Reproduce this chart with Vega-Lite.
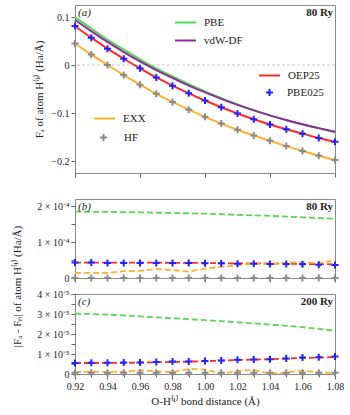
{
  "$schema": "https://vega.github.io/schema/vega-lite/v6.json",
  "padding": {"left": 11, "top": 4, "right": 5, "bottom": 3},
  "spacing": 26,
  "bounds": "flush",
  "config": {
    "font": "Liberation Serif",
    "view": {"stroke": "#888888", "strokeWidth": 1},
    "axis": {
      "labelFont": "Liberation Serif", "titleFont": "Liberation Serif",
      "labelFontSize": 10, "titleFontSize": 11, "titleFontWeight": "normal",
      "labelColor": "#222222", "titleColor": "#222222",
      "tickColor": "#666666", "tickSize": 4, "domain": false, "grid": false,
      "labelPadding": 2, "labelOverlap": false, "labelBound": false, "labelFlush": false
    },
    "legend": {
      "orient": "none", "title": null, "labelFont": "Liberation Serif",
      "labelFontSize": 11, "labelColor": "#222222", "symbolStrokeWidth": 2,
      "padding": 0, "rowPadding": 1, "labelOffset": 7
    }
  },
  "datasets": {
    "a": [
      {"d": 0.92, "m": "PBE", "v": 0.100}, {"d": 0.93, "m": "PBE", "v": 0.076}, {"d": 0.94, "m": "PBE", "v": 0.053}, {"d": 0.95, "m": "PBE", "v": 0.032}, {"d": 0.96, "m": "PBE", "v": 0.012}, {"d": 0.97, "m": "PBE", "v": -0.007}, {"d": 0.98, "m": "PBE", "v": -0.024}, {"d": 0.99, "m": "PBE", "v": -0.040}, {"d": 1.00, "m": "PBE", "v": -0.055}, {"d": 1.01, "m": "PBE", "v": -0.069}, {"d": 1.02, "m": "PBE", "v": -0.082}, {"d": 1.03, "m": "PBE", "v": -0.094}, {"d": 1.04, "m": "PBE", "v": -0.105}, {"d": 1.05, "m": "PBE", "v": -0.115}, {"d": 1.06, "m": "PBE", "v": -0.124}, {"d": 1.07, "m": "PBE", "v": -0.132}, {"d": 1.08, "m": "PBE", "v": -0.140},
      {"d": 0.92, "m": "vdW-DF", "v": 0.094}, {"d": 0.93, "m": "vdW-DF", "v": 0.0705}, {"d": 0.94, "m": "vdW-DF", "v": 0.048}, {"d": 0.95, "m": "vdW-DF", "v": 0.027}, {"d": 0.96, "m": "vdW-DF", "v": 0.0075}, {"d": 0.97, "m": "vdW-DF", "v": -0.0105}, {"d": 0.98, "m": "vdW-DF", "v": -0.027}, {"d": 0.99, "m": "vdW-DF", "v": -0.043}, {"d": 1.00, "m": "vdW-DF", "v": -0.057}, {"d": 1.01, "m": "vdW-DF", "v": -0.0705}, {"d": 1.02, "m": "vdW-DF", "v": -0.083}, {"d": 1.03, "m": "vdW-DF", "v": -0.0945}, {"d": 1.04, "m": "vdW-DF", "v": -0.105}, {"d": 1.05, "m": "vdW-DF", "v": -0.1145}, {"d": 1.06, "m": "vdW-DF", "v": -0.1235}, {"d": 1.07, "m": "vdW-DF", "v": -0.1315}, {"d": 1.08, "m": "vdW-DF", "v": -0.139},
      {"d": 0.92, "m": "OEP25", "v": 0.081}, {"d": 0.93, "m": "OEP25", "v": 0.057}, {"d": 0.94, "m": "OEP25", "v": 0.034}, {"d": 0.95, "m": "OEP25", "v": 0.013}, {"d": 0.96, "m": "OEP25", "v": -0.007}, {"d": 0.97, "m": "OEP25", "v": -0.026}, {"d": 0.98, "m": "OEP25", "v": -0.043}, {"d": 0.99, "m": "OEP25", "v": -0.059}, {"d": 1.00, "m": "OEP25", "v": -0.074}, {"d": 1.01, "m": "OEP25", "v": -0.088}, {"d": 1.02, "m": "OEP25", "v": -0.101}, {"d": 1.03, "m": "OEP25", "v": -0.113}, {"d": 1.04, "m": "OEP25", "v": -0.124}, {"d": 1.05, "m": "OEP25", "v": -0.134}, {"d": 1.06, "m": "OEP25", "v": -0.143}, {"d": 1.07, "m": "OEP25", "v": -0.152}, {"d": 1.08, "m": "OEP25", "v": -0.160},
      {"d": 0.92, "m": "PBE025", "v": 0.081}, {"d": 0.93, "m": "PBE025", "v": 0.057}, {"d": 0.94, "m": "PBE025", "v": 0.034}, {"d": 0.95, "m": "PBE025", "v": 0.013}, {"d": 0.96, "m": "PBE025", "v": -0.007}, {"d": 0.97, "m": "PBE025", "v": -0.026}, {"d": 0.98, "m": "PBE025", "v": -0.043}, {"d": 0.99, "m": "PBE025", "v": -0.059}, {"d": 1.00, "m": "PBE025", "v": -0.074}, {"d": 1.01, "m": "PBE025", "v": -0.088}, {"d": 1.02, "m": "PBE025", "v": -0.101}, {"d": 1.03, "m": "PBE025", "v": -0.113}, {"d": 1.04, "m": "PBE025", "v": -0.124}, {"d": 1.05, "m": "PBE025", "v": -0.134}, {"d": 1.06, "m": "PBE025", "v": -0.143}, {"d": 1.07, "m": "PBE025", "v": -0.152}, {"d": 1.08, "m": "PBE025", "v": -0.160},
      {"d": 0.92, "m": "EXX", "v": 0.045}, {"d": 0.93, "m": "EXX", "v": 0.022}, {"d": 0.94, "m": "EXX", "v": 0.000}, {"d": 0.95, "m": "EXX", "v": -0.021}, {"d": 0.96, "m": "EXX", "v": -0.041}, {"d": 0.97, "m": "EXX", "v": -0.060}, {"d": 0.98, "m": "EXX", "v": -0.077}, {"d": 0.99, "m": "EXX", "v": -0.093}, {"d": 1.00, "m": "EXX", "v": -0.108}, {"d": 1.01, "m": "EXX", "v": -0.122}, {"d": 1.02, "m": "EXX", "v": -0.135}, {"d": 1.03, "m": "EXX", "v": -0.147}, {"d": 1.04, "m": "EXX", "v": -0.158}, {"d": 1.05, "m": "EXX", "v": -0.169}, {"d": 1.06, "m": "EXX", "v": -0.179}, {"d": 1.07, "m": "EXX", "v": -0.189}, {"d": 1.08, "m": "EXX", "v": -0.198},
      {"d": 0.92, "m": "HF", "v": 0.045}, {"d": 0.93, "m": "HF", "v": 0.022}, {"d": 0.94, "m": "HF", "v": 0.000}, {"d": 0.95, "m": "HF", "v": -0.021}, {"d": 0.96, "m": "HF", "v": -0.041}, {"d": 0.97, "m": "HF", "v": -0.060}, {"d": 0.98, "m": "HF", "v": -0.077}, {"d": 0.99, "m": "HF", "v": -0.093}, {"d": 1.00, "m": "HF", "v": -0.108}, {"d": 1.01, "m": "HF", "v": -0.122}, {"d": 1.02, "m": "HF", "v": -0.135}, {"d": 1.03, "m": "HF", "v": -0.147}, {"d": 1.04, "m": "HF", "v": -0.158}, {"d": 1.05, "m": "HF", "v": -0.169}, {"d": 1.06, "m": "HF", "v": -0.179}, {"d": 1.07, "m": "HF", "v": -0.189}, {"d": 1.08, "m": "HF", "v": -0.198}
    ],
    "b": [
      {"d": 0.92, "m": "PBE", "v": 1.85e-4}, {"d": 0.93, "m": "PBE", "v": 1.845e-4}, {"d": 0.94, "m": "PBE", "v": 1.84e-4}, {"d": 0.95, "m": "PBE", "v": 1.835e-4}, {"d": 0.96, "m": "PBE", "v": 1.83e-4}, {"d": 0.97, "m": "PBE", "v": 1.82e-4}, {"d": 0.98, "m": "PBE", "v": 1.81e-4}, {"d": 0.99, "m": "PBE", "v": 1.80e-4}, {"d": 1.00, "m": "PBE", "v": 1.79e-4}, {"d": 1.01, "m": "PBE", "v": 1.775e-4}, {"d": 1.02, "m": "PBE", "v": 1.76e-4}, {"d": 1.03, "m": "PBE", "v": 1.745e-4}, {"d": 1.04, "m": "PBE", "v": 1.73e-4}, {"d": 1.05, "m": "PBE", "v": 1.71e-4}, {"d": 1.06, "m": "PBE", "v": 1.69e-4}, {"d": 1.07, "m": "PBE", "v": 1.67e-4}, {"d": 1.08, "m": "PBE", "v": 1.65e-4},
      {"d": 0.92, "m": "OEP25", "v": 0.43e-4}, {"d": 0.93, "m": "OEP25", "v": 0.43e-4}, {"d": 0.94, "m": "OEP25", "v": 0.43e-4}, {"d": 0.95, "m": "OEP25", "v": 0.43e-4}, {"d": 0.96, "m": "OEP25", "v": 0.43e-4}, {"d": 0.97, "m": "OEP25", "v": 0.43e-4}, {"d": 0.98, "m": "OEP25", "v": 0.42e-4}, {"d": 0.99, "m": "OEP25", "v": 0.42e-4}, {"d": 1.00, "m": "OEP25", "v": 0.42e-4}, {"d": 1.01, "m": "OEP25", "v": 0.41e-4}, {"d": 1.02, "m": "OEP25", "v": 0.41e-4}, {"d": 1.03, "m": "OEP25", "v": 0.41e-4}, {"d": 1.04, "m": "OEP25", "v": 0.40e-4}, {"d": 1.05, "m": "OEP25", "v": 0.40e-4}, {"d": 1.06, "m": "OEP25", "v": 0.39e-4}, {"d": 1.07, "m": "OEP25", "v": 0.39e-4}, {"d": 1.08, "m": "OEP25", "v": 0.38e-4},
      {"d": 0.92, "m": "PBE025", "v": 0.43e-4}, {"d": 0.93, "m": "PBE025", "v": 0.43e-4}, {"d": 0.94, "m": "PBE025", "v": 0.42e-4}, {"d": 0.95, "m": "PBE025", "v": 0.42e-4}, {"d": 0.96, "m": "PBE025", "v": 0.42e-4}, {"d": 0.97, "m": "PBE025", "v": 0.42e-4}, {"d": 0.98, "m": "PBE025", "v": 0.42e-4}, {"d": 0.99, "m": "PBE025", "v": 0.42e-4}, {"d": 1.00, "m": "PBE025", "v": 0.41e-4}, {"d": 1.01, "m": "PBE025", "v": 0.41e-4}, {"d": 1.02, "m": "PBE025", "v": 0.40e-4}, {"d": 1.03, "m": "PBE025", "v": 0.40e-4}, {"d": 1.04, "m": "PBE025", "v": 0.39e-4}, {"d": 1.05, "m": "PBE025", "v": 0.39e-4}, {"d": 1.06, "m": "PBE025", "v": 0.38e-4}, {"d": 1.07, "m": "PBE025", "v": 0.37e-4}, {"d": 1.08, "m": "PBE025", "v": 0.36e-4},
      {"d": 0.92, "m": "EXX", "v": 0.14e-4}, {"d": 0.93, "m": "EXX", "v": 0.14e-4}, {"d": 0.94, "m": "EXX", "v": 0.14e-4}, {"d": 0.95, "m": "EXX", "v": 0.19e-4}, {"d": 0.96, "m": "EXX", "v": 0.20e-4}, {"d": 0.97, "m": "EXX", "v": 0.25e-4}, {"d": 0.98, "m": "EXX", "v": 0.22e-4}, {"d": 0.99, "m": "EXX", "v": 0.18e-4}, {"d": 1.00, "m": "EXX", "v": 0.26e-4}, {"d": 1.01, "m": "EXX", "v": 0.31e-4}, {"d": 1.02, "m": "EXX", "v": 0.35e-4}, {"d": 1.03, "m": "EXX", "v": 0.41e-4}, {"d": 1.04, "m": "EXX", "v": 0.38e-4}, {"d": 1.05, "m": "EXX", "v": 0.43e-4}, {"d": 1.06, "m": "EXX", "v": 0.44e-4}, {"d": 1.07, "m": "EXX", "v": 0.41e-4}, {"d": 1.08, "m": "EXX", "v": 0.50e-4},
      {"d": 0.92, "m": "HF", "v": 0}, {"d": 0.93, "m": "HF", "v": 0}, {"d": 0.94, "m": "HF", "v": 0}, {"d": 0.95, "m": "HF", "v": 0}, {"d": 0.96, "m": "HF", "v": 0}, {"d": 0.97, "m": "HF", "v": 0}, {"d": 0.98, "m": "HF", "v": 0}, {"d": 0.99, "m": "HF", "v": 0}, {"d": 1.00, "m": "HF", "v": 0}, {"d": 1.01, "m": "HF", "v": 0}, {"d": 1.02, "m": "HF", "v": 0}, {"d": 1.03, "m": "HF", "v": 0}, {"d": 1.04, "m": "HF", "v": 0}, {"d": 1.05, "m": "HF", "v": 0}, {"d": 1.06, "m": "HF", "v": 0}, {"d": 1.07, "m": "HF", "v": 0}, {"d": 1.08, "m": "HF", "v": 0}
    ],
    "c": [
      {"d": 0.92, "m": "PBE", "v": 3.02e-5}, {"d": 0.93, "m": "PBE", "v": 3.00e-5}, {"d": 0.94, "m": "PBE", "v": 2.97e-5}, {"d": 0.95, "m": "PBE", "v": 2.93e-5}, {"d": 0.96, "m": "PBE", "v": 2.88e-5}, {"d": 0.97, "m": "PBE", "v": 2.83e-5}, {"d": 0.98, "m": "PBE", "v": 2.79e-5}, {"d": 0.99, "m": "PBE", "v": 2.74e-5}, {"d": 1.00, "m": "PBE", "v": 2.69e-5}, {"d": 1.01, "m": "PBE", "v": 2.64e-5}, {"d": 1.02, "m": "PBE", "v": 2.58e-5}, {"d": 1.03, "m": "PBE", "v": 2.53e-5}, {"d": 1.04, "m": "PBE", "v": 2.47e-5}, {"d": 1.05, "m": "PBE", "v": 2.41e-5}, {"d": 1.06, "m": "PBE", "v": 2.34e-5}, {"d": 1.07, "m": "PBE", "v": 2.26e-5}, {"d": 1.08, "m": "PBE", "v": 2.16e-5},
      {"d": 0.92, "m": "OEP25", "v": 0.55e-5}, {"d": 0.93, "m": "OEP25", "v": 0.55e-5}, {"d": 0.94, "m": "OEP25", "v": 0.56e-5}, {"d": 0.95, "m": "OEP25", "v": 0.56e-5}, {"d": 0.96, "m": "OEP25", "v": 0.57e-5}, {"d": 0.97, "m": "OEP25", "v": 0.59e-5}, {"d": 0.98, "m": "OEP25", "v": 0.60e-5}, {"d": 0.99, "m": "OEP25", "v": 0.62e-5}, {"d": 1.00, "m": "OEP25", "v": 0.64e-5}, {"d": 1.01, "m": "OEP25", "v": 0.67e-5}, {"d": 1.02, "m": "OEP25", "v": 0.70e-5}, {"d": 1.03, "m": "OEP25", "v": 0.72e-5}, {"d": 1.04, "m": "OEP25", "v": 0.74e-5}, {"d": 1.05, "m": "OEP25", "v": 0.77e-5}, {"d": 1.06, "m": "OEP25", "v": 0.80e-5}, {"d": 1.07, "m": "OEP25", "v": 0.82e-5}, {"d": 1.08, "m": "OEP25", "v": 0.85e-5},
      {"d": 0.92, "m": "PBE025", "v": 0.55e-5}, {"d": 0.93, "m": "PBE025", "v": 0.56e-5}, {"d": 0.94, "m": "PBE025", "v": 0.56e-5}, {"d": 0.95, "m": "PBE025", "v": 0.57e-5}, {"d": 0.96, "m": "PBE025", "v": 0.58e-5}, {"d": 0.97, "m": "PBE025", "v": 0.60e-5}, {"d": 0.98, "m": "PBE025", "v": 0.62e-5}, {"d": 0.99, "m": "PBE025", "v": 0.63e-5}, {"d": 1.00, "m": "PBE025", "v": 0.65e-5}, {"d": 1.01, "m": "PBE025", "v": 0.68e-5}, {"d": 1.02, "m": "PBE025", "v": 0.71e-5}, {"d": 1.03, "m": "PBE025", "v": 0.73e-5}, {"d": 1.04, "m": "PBE025", "v": 0.74e-5}, {"d": 1.05, "m": "PBE025", "v": 0.78e-5}, {"d": 1.06, "m": "PBE025", "v": 0.83e-5}, {"d": 1.07, "m": "PBE025", "v": 0.84e-5}, {"d": 1.08, "m": "PBE025", "v": 0.87e-5},
      {"d": 0.92, "m": "EXX", "v": 0.09e-5}, {"d": 0.93, "m": "EXX", "v": 0.12e-5}, {"d": 0.94, "m": "EXX", "v": 0.10e-5}, {"d": 0.95, "m": "EXX", "v": 0.11e-5}, {"d": 0.96, "m": "EXX", "v": 0.19e-5}, {"d": 0.97, "m": "EXX", "v": 0.14e-5}, {"d": 0.98, "m": "EXX", "v": 0.09e-5}, {"d": 0.99, "m": "EXX", "v": 0.25e-5}, {"d": 1.00, "m": "EXX", "v": 0.23e-5}, {"d": 1.01, "m": "EXX", "v": 0.01e-5}, {"d": 1.02, "m": "EXX", "v": 0.15e-5}, {"d": 1.03, "m": "EXX", "v": 0.21e-5}, {"d": 1.04, "m": "EXX", "v": 0.02e-5}, {"d": 1.05, "m": "EXX", "v": 0.08e-5}, {"d": 1.06, "m": "EXX", "v": 0.17e-5}, {"d": 1.07, "m": "EXX", "v": 0.08e-5}, {"d": 1.08, "m": "EXX", "v": 0.05e-5},
      {"d": 0.92, "m": "HF", "v": 0.06e-5}, {"d": 0.93, "m": "HF", "v": 0.06e-5}, {"d": 0.94, "m": "HF", "v": 0.06e-5}, {"d": 0.95, "m": "HF", "v": 0.06e-5}, {"d": 0.96, "m": "HF", "v": 0.06e-5}, {"d": 0.97, "m": "HF", "v": 0.06e-5}, {"d": 0.98, "m": "HF", "v": 0.06e-5}, {"d": 0.99, "m": "HF", "v": 0.06e-5}, {"d": 1.00, "m": "HF", "v": 0.06e-5}, {"d": 1.01, "m": "HF", "v": 0.06e-5}, {"d": 1.02, "m": "HF", "v": 0.06e-5}, {"d": 1.03, "m": "HF", "v": 0.06e-5}, {"d": 1.04, "m": "HF", "v": 0.06e-5}, {"d": 1.05, "m": "HF", "v": 0.06e-5}, {"d": 1.06, "m": "HF", "v": 0.06e-5}, {"d": 1.07, "m": "HF", "v": 0.06e-5}, {"d": 1.08, "m": "HF", "v": 0.06e-5}
    ],
    "lab_a": [{"t": "(a)"}], "ry_a": [{"t": "80 Ry"}],
    "lab_b": [{"t": "(b)"}], "ry_b": [{"t": "80 Ry"}],
    "lab_c": [{"t": "(c)"}], "ry_c": [{"t": "200 Ry"}],
    "one": [{}]
  },
  "vconcat": [
    {
      "width": 260, "height": 168,
      "layer": [
        {
          "data": {"name": "one"},
          "mark": {"type": "rule", "color": "#c8c8c8", "strokeDash": [3, 2], "strokeWidth": 1},
          "encoding": {"y": {"datum": 0, "type": "quantitative"}}
        },
        {
          "data": {"name": "a"},
          "transform": [{"filter": {"field": "m", "oneOf": ["PBE", "vdW-DF"]}}],
          "mark": {"type": "line", "strokeWidth": 2, "interpolate": "monotone"},
          "encoding": {
            "x": {"field": "d", "type": "quantitative", "scale": {"domain": [0.92, 1.08], "nice": false, "zero": false},
              "axis": {"title": null, "labels": false, "values": [0.92,0.93,0.94,0.95,0.96,0.97,0.98,0.99,1.0,1.01,1.02,1.03,1.04,1.05,1.06,1.07,1.08]}},
            "y": {"field": "v", "type": "quantitative", "scale": {"domain": [-0.225, 0.125], "nice": false, "zero": false},
              "axis": {"title": "Fₐ of atom H⁽¹⁾ (Ha/Å)", "titlePadding": 6, "labelOverlap": false, "values": [-0.2, -0.15, -0.1, -0.05, 0, 0.05, 0.1],
                "labelExpr": "abs(round(datum.value*20)) % 2 == 0 ? format(datum.value, '.1~f') : ''"}},
            "color": {"field": "m", "type": "nominal", "scale": {"domain": ["PBE", "vdW-DF"], "range": ["#55d855", "#8e2c9a"]},
              "legend": {"legendX": 99, "legendY": 6, "symbolType": "stroke", "symbolSize": 441}}
          }
        },
        {
          "data": {"name": "a"},
          "transform": [{"filter": {"field": "m", "equal": "EXX"}}],
          "mark": {"type": "line", "strokeWidth": 2, "interpolate": "monotone"},
          "encoding": {
            "x": {"field": "d", "type": "quantitative"},
            "y": {"field": "v", "type": "quantitative"},
            "color": {"field": "m", "type": "nominal", "scale": {"domain": ["EXX"], "range": ["#ffb02e"]},
              "legend": {"legendX": 18, "legendY": 102, "symbolType": "stroke", "symbolSize": 441}}
          }
        },
        {
          "data": {"name": "a"},
          "transform": [{"filter": {"field": "m", "equal": "OEP25"}}],
          "mark": {"type": "line", "strokeWidth": 2, "interpolate": "monotone"},
          "encoding": {
            "x": {"field": "d", "type": "quantitative"},
            "y": {"field": "v", "type": "quantitative"},
            "color": {"field": "m", "type": "nominal", "scale": {"domain": ["OEP25"], "range": ["#ff2a2a"]},
              "legend": {"legendX": 183, "legendY": 59, "symbolType": "stroke", "symbolSize": 441}}
          }
        },
        {
          "data": {"name": "a"},
          "transform": [{"filter": {"field": "m", "equal": "PBE025"}}],
          "mark": {"type": "point", "shape": "M-1,0H1M0,-1V1", "size": 49, "filled": false, "strokeWidth": 2, "opacity": 1},
          "encoding": {
            "x": {"field": "d", "type": "quantitative"},
            "y": {"field": "v", "type": "quantitative"},
            "color": {"field": "m", "type": "nominal", "scale": {"domain": ["PBE025"], "range": ["#2222ff"]},
              "legend": {"legendX": 189, "legendY": 82, "symbolType": "M-1,0H1M0,-1V1", "symbolSize": 49, "labelOffset": 12}}
          }
        },
        {
          "data": {"name": "a"},
          "transform": [{"filter": {"field": "m", "equal": "HF"}}],
          "mark": {"type": "point", "shape": "M-1,0H1M0,-1V1", "size": 49, "filled": false, "strokeWidth": 2, "opacity": 1},
          "encoding": {
            "x": {"field": "d", "type": "quantitative"},
            "y": {"field": "v", "type": "quantitative"},
            "color": {"field": "m", "type": "nominal", "scale": {"domain": ["HF"], "range": ["#8a8a8a"]},
              "legend": {"legendX": 23, "legendY": 127, "symbolType": "M-1,0H1M0,-1V1", "symbolSize": 49, "labelOffset": 15}}
          }
        },
        {
          "data": {"name": "lab_a"},
          "mark": {"type": "text", "align": "left", "baseline": "top", "dx": 3, "dy": 2, "fontSize": 11, "fontStyle": "italic", "font": "Liberation Serif", "color": "#222222"},
          "encoding": {"x": {"datum": 0.92, "type": "quantitative"}, "y": {"datum": 0.125, "type": "quantitative"}, "text": {"field": "t"}}
        },
        {
          "data": {"name": "ry_a"},
          "mark": {"type": "text", "align": "right", "baseline": "top", "dx": -2, "dy": 2, "fontSize": 11, "fontWeight": "bold", "font": "Liberation Serif", "color": "#222222"},
          "encoding": {"x": {"datum": 1.08, "type": "quantitative"}, "y": {"datum": 0.125, "type": "quantitative"}, "text": {"field": "t"}}
        }
      ],
      "resolve": {"scale": {"color": "independent"}}
    },
    {
      "spacing": 16,
      "bounds": "flush",
      "vconcat": [
        {
          "width": 260, "height": 79,
          "layer": [
            {"data": {"name": "b"}, "transform": [{"filter": {"field": "m", "equal": "PBE"}}], "mark": {"type": "line", "color": "#55d855", "strokeWidth": 1.8, "strokeDash": [6, 3]},
             "encoding": {
              "x": {"field": "d", "type": "quantitative", "scale": {"domain": [0.92, 1.08], "nice": false, "zero": false},
                "axis": {"title": null, "labels": false, "values": [0.92,0.93,0.94,0.95,0.96,0.97,0.98,0.99,1.0,1.01,1.02,1.03,1.04,1.05,1.06,1.07,1.08]}},
              "y": {"field": "v", "type": "quantitative", "scale": {"domain": [0, 2.2e-4], "nice": false, "zero": false},
                "axis": {"orient": "left", "title": "|Fₐ - Fₙ| of atom H⁽¹⁾ (Ha/Å)", "titlePadding": 14, "titleY": 87, "labelOverlap": false,
                  "values": [0, 1e-4, 2e-4],
                  "labelExpr": "datum.value == 0 ? '0' : round(datum.value*1e4) + ' × 10⁻⁴'"}}
             }},
            {"data": {"name": "b"}, "transform": [{"filter": {"field": "m", "equal": "OEP25"}}], "mark": {"type": "line", "color": "#ff2a2a", "strokeWidth": 1.8, "strokeDash": [6, 3]},
             "encoding": {"x": {"field": "d", "type": "quantitative"},
               "y": {"field": "v", "type": "quantitative", "axis": {"orient": "left", "title": null, "labels": false, "values": [0, 0.5e-4, 1e-4, 1.5e-4, 2e-4]}}}},
            {"data": {"name": "b"}, "transform": [{"filter": {"field": "m", "equal": "EXX"}}], "mark": {"type": "line", "color": "#ffb02e", "strokeWidth": 1.8, "strokeDash": [6, 3]},
             "encoding": {"x": {"field": "d", "type": "quantitative"}, "y": {"field": "v", "type": "quantitative", "axis": null}}},
            {"data": {"name": "b"}, "transform": [{"filter": {"field": "m", "equal": "PBE025"}}], "mark": {"type": "point", "shape": "M-1,0H1M0,-1V1", "size": 49, "filled": false, "strokeWidth": 2, "color": "#2222ff", "opacity": 1},
             "encoding": {"x": {"field": "d", "type": "quantitative"}, "y": {"field": "v", "type": "quantitative", "axis": null}}},
            {"data": {"name": "b"}, "transform": [{"filter": {"field": "m", "equal": "HF"}}], "mark": {"type": "point", "shape": "M-1,0H1M0,-1V1", "size": 49, "filled": false, "strokeWidth": 2, "color": "#8a8a8a", "opacity": 1},
             "encoding": {"x": {"field": "d", "type": "quantitative"}, "y": {"field": "v", "type": "quantitative", "axis": null}}},
            {
              "data": {"name": "lab_b"},
              "mark": {"type": "text", "align": "left", "baseline": "top", "dx": 3, "dy": 2, "fontSize": 11, "fontStyle": "italic", "font": "Liberation Serif", "color": "#222222"},
              "encoding": {"x": {"datum": 0.92, "type": "quantitative"}, "y": {"datum": 2.2e-4, "type": "quantitative", "axis": null}, "text": {"field": "t"}}
            },
            {
              "data": {"name": "ry_b"},
              "mark": {"type": "text", "align": "right", "baseline": "top", "dx": -2, "dy": 2, "fontSize": 11, "fontWeight": "bold", "font": "Liberation Serif", "color": "#222222"},
              "encoding": {"x": {"datum": 1.08, "type": "quantitative"}, "y": {"datum": 2.2e-4, "type": "quantitative", "axis": null}, "text": {"field": "t"}}
            }
          ],
          "resolve": {"axis": {"y": "independent"}}
        },
        {
          "width": 260, "height": 80,
          "layer": [
            {"data": {"name": "c"}, "transform": [{"filter": {"field": "m", "equal": "PBE"}}], "mark": {"type": "line", "color": "#55d855", "strokeWidth": 1.8, "strokeDash": [6, 3]},
             "encoding": {
              "x": {"field": "d", "type": "quantitative", "scale": {"domain": [0.92, 1.08], "nice": false, "zero": false},
                "axis": {"orient": "bottom", "title": "O-H⁽¹⁾ bond distance (Å)", "titlePadding": 4, "labelOverlap": false, "tickSize": 5,
                  "values": [0.92, 0.94, 0.96, 0.98, 1.0, 1.02, 1.04, 1.06, 1.08], "format": ".2f"}},
              "y": {"field": "v", "type": "quantitative", "scale": {"domain": [0, 4e-5], "nice": false, "zero": false},
                "axis": {"orient": "left", "title": null, "labelOverlap": false, "values": [0, 1e-5, 2e-5, 3e-5, 4e-5],
                  "labelExpr": "datum.value == 0 ? '0' : round(datum.value*1e5) + ' × 10⁻⁵'"}}
             }},
            {"data": {"name": "c"}, "transform": [{"filter": {"field": "m", "equal": "OEP25"}}], "mark": {"type": "line", "color": "#ff2a2a", "strokeWidth": 1.8, "strokeDash": [6, 3]},
             "encoding": {
               "x": {"field": "d", "type": "quantitative", "axis": {"orient": "bottom", "title": null, "labels": false, "tickSize": 3, "values": [0.92,0.93,0.94,0.95,0.96,0.97,0.98,0.99,1.0,1.01,1.02,1.03,1.04,1.05,1.06,1.07,1.08]}},
               "y": {"field": "v", "type": "quantitative", "axis": {"orient": "left", "title": null, "labels": false, "values": [0, 0.5e-5, 1e-5, 1.5e-5, 2e-5, 2.5e-5, 3e-5, 3.5e-5, 4e-5]}}}},
            {"data": {"name": "c"}, "transform": [{"filter": {"field": "m", "equal": "EXX"}}], "mark": {"type": "line", "color": "#ffb02e", "strokeWidth": 1.8, "strokeDash": [6, 3]},
             "encoding": {"x": {"field": "d", "type": "quantitative", "axis": null}, "y": {"field": "v", "type": "quantitative", "axis": null}}},
            {"data": {"name": "c"}, "transform": [{"filter": {"field": "m", "equal": "PBE025"}}], "mark": {"type": "point", "shape": "M-1,0H1M0,-1V1", "size": 49, "filled": false, "strokeWidth": 2, "color": "#2222ff", "opacity": 1},
             "encoding": {"x": {"field": "d", "type": "quantitative", "axis": null}, "y": {"field": "v", "type": "quantitative", "axis": null}}},
            {"data": {"name": "c"}, "transform": [{"filter": {"field": "m", "equal": "HF"}}], "mark": {"type": "point", "shape": "M-1,0H1M0,-1V1", "size": 49, "filled": false, "strokeWidth": 2, "color": "#8a8a8a", "opacity": 1},
             "encoding": {"x": {"field": "d", "type": "quantitative", "axis": null}, "y": {"field": "v", "type": "quantitative", "axis": null}}},
            {
              "data": {"name": "lab_c"},
              "mark": {"type": "text", "align": "left", "baseline": "top", "dx": 3, "dy": 2, "fontSize": 11, "fontStyle": "italic", "font": "Liberation Serif", "color": "#222222"},
              "encoding": {"x": {"datum": 0.92, "type": "quantitative", "axis": null}, "y": {"datum": 4e-5, "type": "quantitative", "axis": null}, "text": {"field": "t"}}
            },
            {
              "data": {"name": "ry_c"},
              "mark": {"type": "text", "align": "right", "baseline": "top", "dx": -2, "dy": 2, "fontSize": 11, "fontWeight": "bold", "font": "Liberation Serif", "color": "#222222"},
              "encoding": {"x": {"datum": 1.08, "type": "quantitative", "axis": null}, "y": {"datum": 4e-5, "type": "quantitative", "axis": null}, "text": {"field": "t"}}
            }
          ],
          "resolve": {"axis": {"x": "independent", "y": "independent"}}
        }
      ]
    }
  ]
}
